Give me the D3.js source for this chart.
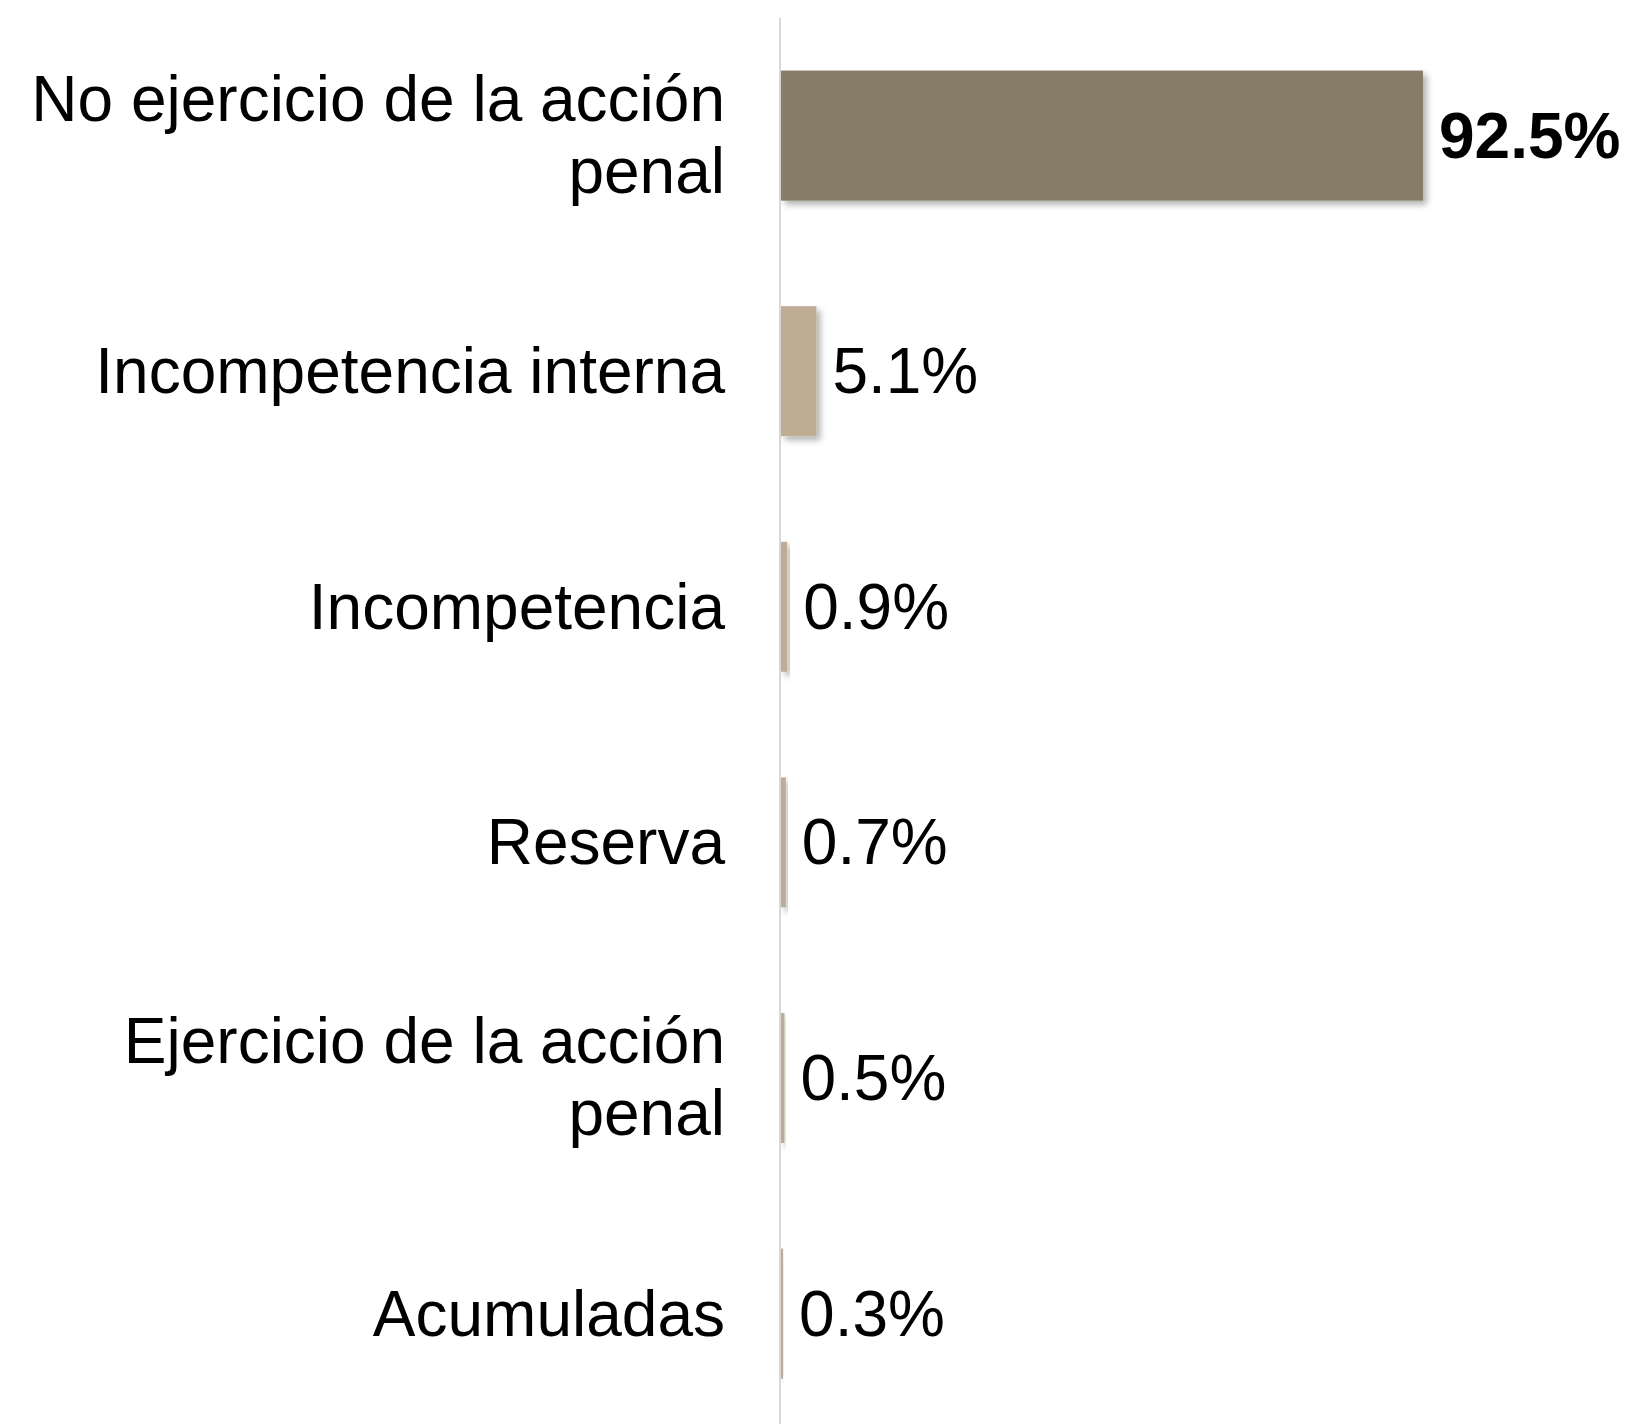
<!DOCTYPE html>
<html>
<head>
<meta charset="utf-8">
<script src="https://cdn.jsdelivr.net/npm/d3@7"></script>
<style>
  body { margin: 0; background: #ffffff; }
  text { font-family: "Liberation Sans", Arial, sans-serif; }
</style>
</head>
<body>
<script>
// categories, split into the lines they are drawn on
var categories = ["No ejercicio de la acción penal", "Incompetencia interna",
                  "Incompetencia", "Reserva", "Ejercicio de la acción penal",
                  "Acumuladas"];
var labelLines = [["No ejercicio de la acción", "penal"], ["Incompetencia interna"],
                  ["Incompetencia"], ["Reserva"], ["Ejercicio de la acción", "penal"],
                  ["Acumuladas"]];
var values = [92.5, 5.1, 0.9, 0.7, 0.5, 0.3];
var valueLabels = ["92.5%", "5.1%", "0.9%", "0.7%", "0.5%", "0.3%"];

var w = 1630;
var h = 1424;
var x0 = 780;

var svg = d3.select("body")
            .append("svg")
            .attr("width", w)
            .attr("height", h);

// soft shadow under the bars
var defs = svg.append("defs");
var filter = defs.append("filter")
                 .attr("id", "shadow")
                 .attr("x", "-20%").attr("y", "-20%")
                 .attr("width", "160%").attr("height", "160%");
filter.append("feDropShadow")
      .attr("dx", 4).attr("dy", 4)
      .attr("stdDeviation", 3)
      .attr("flood-color", "#000")
      .attr("flood-opacity", 0.3);

var xScale = d3.scaleLinear()
               .domain([0, 100])
               .range([x0, x0 + 694]);

var yScale = d3.scaleBand()
               .domain(categories)
               .range([17.8, 1431.4])
               .paddingInner(0.448)
               .paddingOuter(0.224);

// axis line
svg.append("line")
   .attr("x1", x0).attr("x2", x0)
   .attr("y1", 17.8).attr("y2", h)
   .attr("stroke", "#d9d9d9")
   .attr("stroke-width", 2);

// bars
svg.selectAll("rect.bar")
   .data(categories)
   .enter()
   .append("rect")
   .attr("class", "bar")
   .attr("x", xScale(0) + 1)
   .attr("y", function(d) { return yScale(d); })
   .attr("width", function(d, i) { return Math.max(2, xScale(values[i]) - xScale(0)); })
   .attr("height", yScale.bandwidth())
   .attr("fill", function(d, i) { return i === 0 ? "#877b68" : "#bead94"; })
   .attr("filter", "url(#shadow)");

// value labels
svg.selectAll("text.value")
   .data(categories)
   .enter()
   .append("text")
   .attr("class", "value")
   .attr("x", function(d, i) { return xScale(values[i]) + 17; })
   .attr("y", function(d) { return yScale(d) + yScale.bandwidth() / 2 + 22; })
   .attr("font-size", "64px")
   .attr("font-weight", function(d, i) { return i === 0 ? "bold" : "normal"; })
   .attr("fill", "#000")
   .text(function(d, i) { return valueLabels[i]; });

// category labels
var cats = svg.selectAll("text.cat")
              .data(categories)
              .enter()
              .append("text")
              .attr("class", "cat")
              .attr("text-anchor", "end")
              .attr("font-size", "64px")
              .attr("fill", "#000");

cats.each(function(d, i) {
  var mid = yScale(d) + yScale.bandwidth() / 2;
  var lines = labelLines[i];
  var first = lines.length === 1 ? mid + 22 : mid - 15;
  d3.select(this).selectAll("tspan")
    .data(lines)
    .enter()
    .append("tspan")
    .attr("x", 725)
    .attr("y", function(t, j) { return first + j * 72; })
    .text(function(t) { return t; });
});
</script>
</body>
</html>
